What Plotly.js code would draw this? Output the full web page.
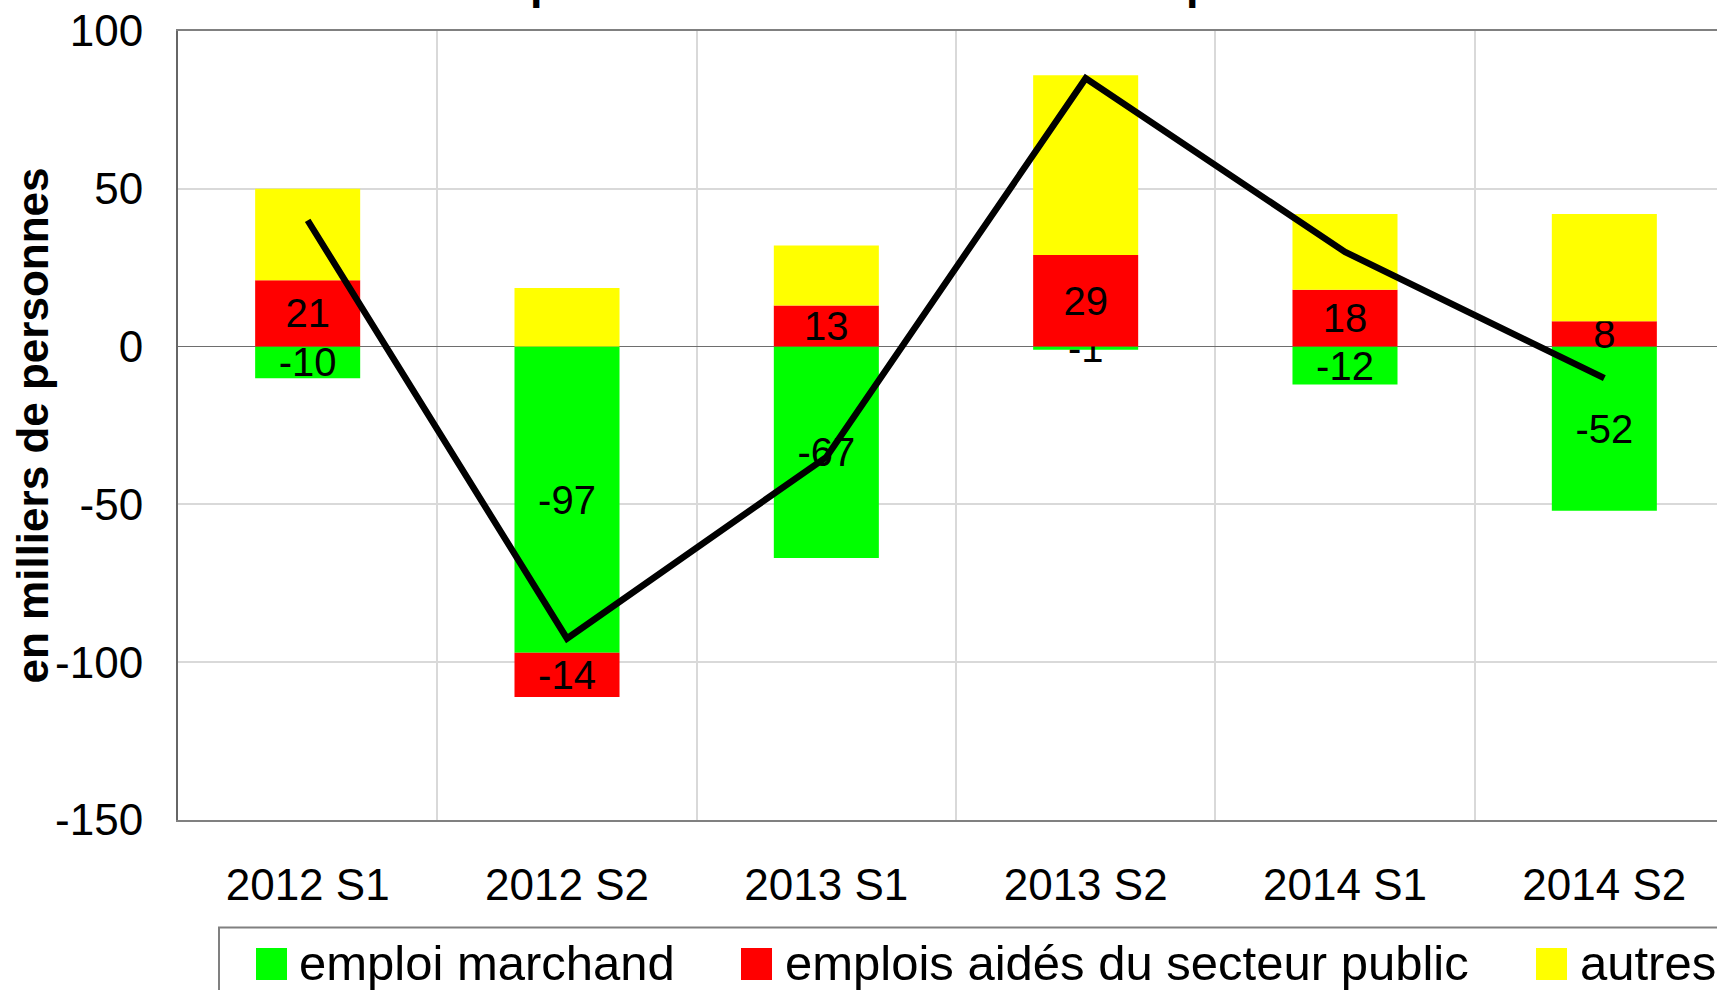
<!DOCTYPE html>
<html>
<head>
<meta charset="utf-8">
<script src="https://cdn.plot.ly/plotly-3.0.1.min.js"></script>
<style>
  html, body { margin: 0; padding: 0; overflow: hidden; background: #fff; width: 1717px; height: 990px; }
  #chart { position: absolute; left: 0; top: -80px; }
</style>
</head>
<body>
<div id="chart"></div>
<script>
// ---- data ----
const categories = ['2012 S1', '2012 S2', '2013 S1', '2013 S2', '2014 S1', '2014 S2'];
const emploiMarchand = [-10, -97, -67, -1, -12, -52];
const emploisAides = [21, -14, 13, 29, 18, 8];
const autres = [29, 18.6, 19, 57, 24, 34];
const total = [40, -92.5, -35, 85, 30, -10];
const yTicks = [-150, -100, -50, 0, 50, 100];
const seriesNames = ['emploi marchand', 'emplois aidés du secteur public', 'autres'];
const seriesColors = ['#00ff00', '#ff0000', '#ffff00'];

// ---- geometry (figure is larger than the viewport, shifted up by OFFSET) ----
const W = 1760, H = 1100, OFFSET = 80;
const M = { l: 178, r: 26, t: 111, b: 200 };
const PW = W - M.l - M.r, PH = H - M.t - M.b;
const px = x => (x - M.l) / PW;                       // page x -> paper x
const py = y => (H - M.b - (y + OFFSET)) / PH;        // page y -> paper y
const FONT = 'Liberation Sans, Arial, Helvetica, sans-serif';

function barTrace(vals, i, withText) {
  return {
    type: 'bar', x: categories, y: vals, name: seriesNames[i],
    marker: { color: seriesColors[i], line: { width: 0 } },
    text: withText ? vals : undefined,
    texttemplate: withText ? '%{y:.0f}' : undefined,
    textposition: withText ? 'inside' : 'none',
    insidetextanchor: 'middle', constraintext: 'none', textangle: 0,
    insidetextfont: { family: FONT, size: 40, color: '#000' },
    hoverinfo: 'x+y+name', cliponaxis: false
  };
}

const traces = [
  barTrace(emploiMarchand, 0, true),
  barTrace(emploisAides, 1, true),
  barTrace(autres, 2, false),
  { type: 'scatter', mode: 'lines', x: categories, y: total, name: 'total',
    line: { color: '#000', width: 6.5 }, hoverinfo: 'x+y' }
];

// legend drawn as shapes + text
const legendShapes = [
  { type: 'rect', xref: 'paper', yref: 'paper', x0: px(219), x1: px(1760), y0: py(927.5), y1: py(1090),
    line: { color: '#808080', width: 2 }, fillcolor: 'rgba(0,0,0,0)', layer: 'above' }
];
const swX = [256, 741, 1536];
const txtX = [297, 783, 1578];
const legendAnn = [];
seriesNames.forEach((n, i) => {
  legendShapes.push({ type: 'rect', xref: 'paper', yref: 'paper',
    x0: px(swX[i]), x1: px(swX[i] + 31), y0: py(980), y1: py(948),
    line: { width: 0 }, fillcolor: seriesColors[i], layer: 'above' });
  legendAnn.push({ xref: 'paper', yref: 'paper', x: px(txtX[i]), y: py(963),
    xanchor: 'left', yanchor: 'middle', text: n, showarrow: false,
    font: { family: FONT, size: 49, color: '#000' } });
});

const layout = {
  width: W, height: H,
  margin: { l: M.l, r: M.r, t: M.t, b: M.b, pad: 0, autoexpand: false },
  paper_bgcolor: '#fff', plot_bgcolor: '#fff',
  font: { family: FONT, color: '#000' },
  barmode: 'relative', bargap: 0.595,
  showlegend: false,
  title: { text: 'Décomposition de la variation de l\'emploi total',
    font: { family: FONT, size: 45, weight: 700, color: '#000' },
    xref: 'container', yref: 'container', x: 380 / W, xanchor: 'left',
    y: 1 - (OFFSET - 1.5) / H, yanchor: 'bottom' },
  xaxis: {
    type: 'category', tickson: 'boundaries', range: [-0.5, 5.5],
    showgrid: true, gridcolor: '#d9d9d9', gridwidth: 2,
    showline: true, linecolor: '#808080', linewidth: 2, mirror: true,
    ticks: '', tickfont: { family: FONT, size: 44, color: '#000' },
    ticklabelstandoff: 25, automargin: false, zeroline: false
  },
  yaxis: {
    range: [-150, 100], tickmode: 'array', tickvals: yTicks, ticktext: yTicks.map(String),
    showgrid: true, gridcolor: '#d9d9d9', gridwidth: 2,
    zeroline: true, zerolinecolor: '#6e6e6e', zerolinewidth: 1.5,
    showline: true, linecolor: '#666', linewidth: 2, mirror: true,
    ticks: '', tickfont: { family: FONT, size: 44, color: '#000' },
    ticklabelstandoff: 24, automargin: false
  },
  shapes: legendShapes,
  annotations: [
    { xref: 'paper', yref: 'paper', x: 0, xshift: 32 - M.l, y: 0.5, xanchor: 'center', yanchor: 'middle',
      text: 'en milliers de personnes', textangle: -90, showarrow: false,
      font: { family: FONT, size: 44, weight: 700, color: '#000' } }
  ].concat(legendAnn)
};

Plotly.newPlot('chart', traces, layout, { displayModeBar: false, staticPlot: true });
</script>
</body>
</html>
